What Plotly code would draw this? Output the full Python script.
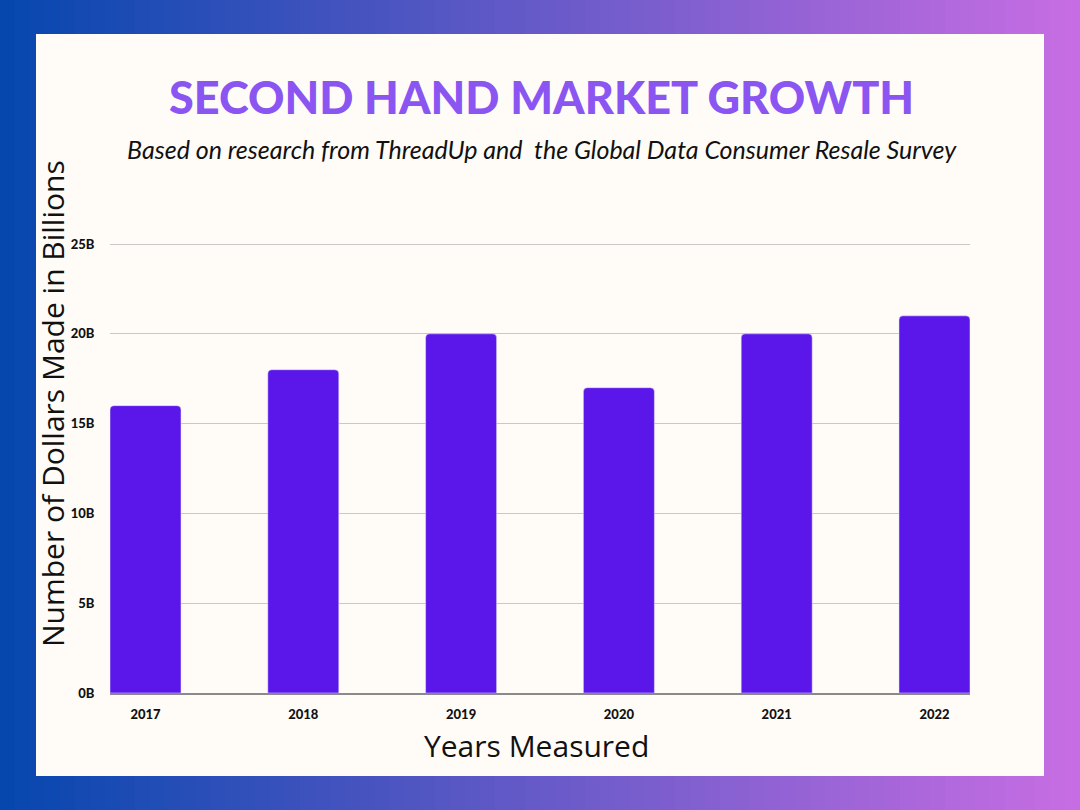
import plotly.graph_objects as go

years = ["2017", "2018", "2019", "2020", "2021", "2022"]
values = [16, 18, 20, 17, 20, 21]
tick_vals = [0, 5, 10, 15, 20, 25]
tick_text = ["0B", "5B", "10B", "15B", "20B", "25B"]

W, H = 1080, 810
L, R, T, B = 110, 970, 240, 693  # plot area in pixels


def px(x):
    return (x - L) / (R - L)


def py(y):
    return (B - y) / (B - T)


def lerp(c1, c2, t):
    return "rgb(%d,%d,%d)" % tuple(round(a + (b - a) * t) for a, b in zip(c1, c2))


shapes = []
n = 72
c_left, c_right = (5, 71, 174), (200, 109, 227)
for i in range(n):
    x0 = W * i / n
    x1 = W * (i + 1) / n + 1
    shapes.append(dict(type="rect", xref="paper", yref="paper", layer="below",
                       x0=px(x0), x1=px(x1), y0=py(H), y1=py(0),
                       fillcolor=lerp(c_left, c_right, (i + 0.5) / n), line_width=0))
shapes.append(dict(type="rect", xref="paper", yref="paper", layer="below",
                   x0=px(36), x1=px(1044), y0=py(776), y1=py(34),
                   fillcolor="#fffcf7", line_width=0))

fig = go.Figure(go.Bar(x=years, y=values, marker=dict(color="#5b16e9", cornerradius=4),
                       width=0.45, hoverinfo="x+y"))

annotations = [
    dict(text="SECOND HAND MARKET GROWTH", xref="paper", yref="paper", x=px(541), y=py(97),
         showarrow=False, xanchor="center", yanchor="middle",
         font=dict(family="Lato", size=45, color="#8b55f2", weight=900)),
    dict(text="Based on research from ThreadUp and &nbsp;the Global Data Consumer Resale Survey",
         xref="paper", yref="paper", x=px(542), y=py(149), showarrow=False,
         xanchor="center", yanchor="middle",
         font=dict(family="Lato", size=25, color="#111111", style="italic")),
    dict(text="Years Measured", xref="paper", yref="paper", x=px(536), y=py(745),
         showarrow=False, xanchor="center", yanchor="middle",
         font=dict(family="Open Sans", size=30, color="#111111")),
    dict(text="Number of Dollars Made in Billions", xref="paper", yref="paper", x=px(52), y=py(404),
         showarrow=False, xanchor="center", yanchor="middle", textangle=-90,
         font=dict(family="Open Sans", size=30, color="#111111")),
]

fig.update_layout(
    width=W, height=H,
    margin=dict(l=L, r=W - R, t=T, b=H - B, pad=0),
    paper_bgcolor="#fffcf7", plot_bgcolor="rgba(0,0,0,0)",
    shapes=shapes, annotations=annotations, showlegend=False,
    bargap=0.55,
)
fig.update_xaxes(range=[-0.225, 5.225], showgrid=False, showline=True, linecolor="#8a8a8a",
                 linewidth=1.5, ticks="outside", ticklen=9, tickcolor="rgba(0,0,0,0)",
                 tickfont=dict(family="Lato", size=13, color="#111111", weight=900), fixedrange=True)
fig.update_yaxes(range=[0, (B - T) / ((B - 244) / 25)], tickvals=tick_vals, ticktext=tick_text,
                 showgrid=True, gridcolor="#c8c8c8", gridwidth=1, zeroline=False, showline=False,
                 ticks="outside", ticklen=12, tickcolor="rgba(0,0,0,0)",
                 tickfont=dict(family="Lato", size=13, color="#111111", weight=900), fixedrange=True)

fig.write_html("out.html", config={"displayModeBar": False},
               post_script="document.body.style.margin='0';document.body.style.overflow='hidden';")
